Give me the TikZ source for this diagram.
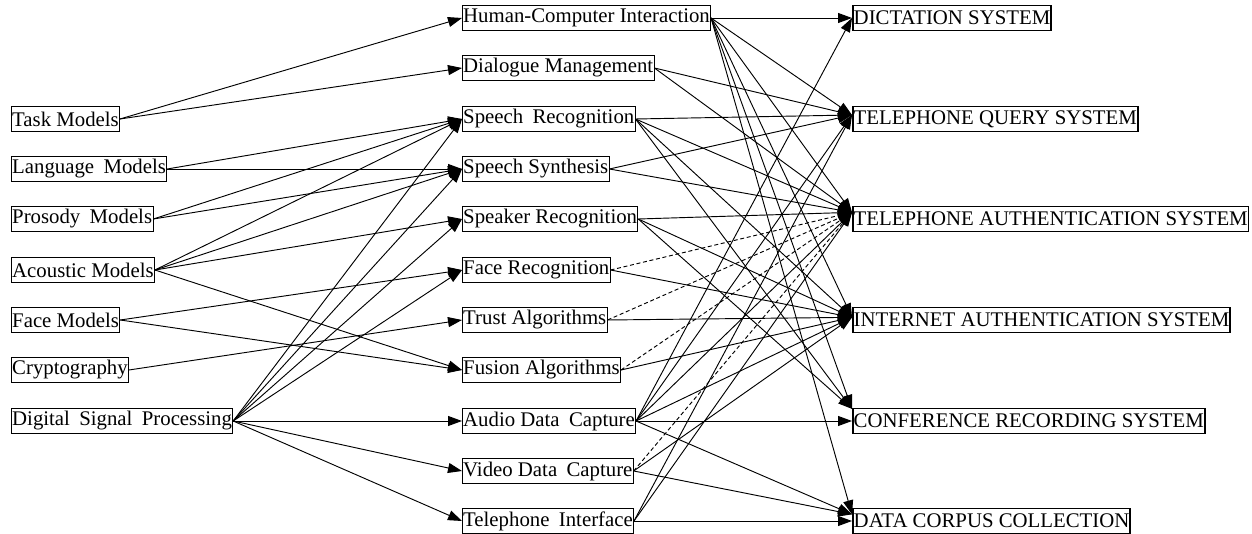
\documentclass[tikz,border=0pt]{standalone}
\usepackage{fontspec}
\setmainfont{Liberation Serif}
\usetikzlibrary{arrows.meta}
\newcommand{\twosp}{\hspace{0.45em}}
\begin{document}
\begin{tikzpicture}[x=0.75pt,y=-0.75pt,
  box/.style={draw, line width=0.6pt, anchor=west, inner xsep=0.6pt, inner ysep=0pt,
              minimum height=18.75pt, font=\fontsize{15.6}{18}\selectfont},
  sysbox/.style={box, line width=1.4pt},
  arr/.style={line width=0.7pt, -{Triangle[length=10.5pt,width=7.5pt]}},
  dsh/.style={arr, dash pattern=on 3pt off 2pt}]
\useasboundingbox (0,0) rectangle (1252,534);
% left column
\node[box] (tm)  at (11,119) {Task Models};
\node[box] (lm)  at (11,169) {Language\twosp Models};
\node[box] (pm)  at (11,219) {Prosody\twosp Models};
\node[box] (am)  at (11,270) {Acoustic Models};
\node[box] (fm)  at (11,320) {Face Models};
\node[box] (cr)  at (11,370) {Cryptography};
\node[box] (dsp) at (11,421) {Digital\twosp Signal\twosp Processing};
% middle column
\node[box] (hci) at (462,18)  {Human-Computer Interaction};
\node[box] (dm)  at (462,68)  {Dialogue Management};
\node[box] (sr)  at (462,119) {Speech\twosp Recognition};
\node[box] (ss)  at (462,169) {Speech Synthesis};
\node[box] (spk) at (462,219) {Speaker Recognition};
\node[box] (fr)  at (462,270) {Face Recognition};
\node[box] (ta)  at (462,320) {Trust Algorithms};
\node[box] (fa)  at (462,370) {Fusion Algorithms};
\node[box] (adc) at (462,421) {Audio Data\twosp Capture};
\node[box] (vdc) at (462,471) {Video Data\twosp Capture};
\node[box] (ti)  at (462,521) {Telephone\twosp Interface};
% right column
\node[sysbox] (dict) at (852,18)  {DICTATION SYSTEM};
\node[sysbox] (telq) at (852,119) {TELEPHONE QUERY SYSTEM};
\node[sysbox] (tela) at (852,219) {TELEPHONE AUTHENTICATION SYSTEM};
\node[sysbox] (inet) at (852,320) {INTERNET AUTHENTICATION SYSTEM};
\node[sysbox] (conf) at (852,421) {CONFERENCE RECORDING SYSTEM};
\node[sysbox] (data) at (852,521) {DATA CORPUS COLLECTION};
% arrival points
\coordinate (dictin) at (dict.west);
\coordinate (telqin) at ([yshift=3pt]telq.west);
\coordinate (telain) at ([yshift=5pt]tela.west);
\coordinate (inetin) at ([yshift=2pt]inet.west);
\coordinate (confin) at (conf.west);
\coordinate (confT)  at ([yshift=-1pt]conf.north west);
\coordinate (datain) at (data.west);
\coordinate (dataT)  at ([yshift=5pt]data.west);
% left -> middle
\foreach \a/\b in {tm/hci, tm/dm, lm/sr, lm/ss, pm/sr, pm/ss, am/sr, am/ss, am/spk, am/fa,
                   fm/fr, fm/fa, cr/ta, dsp/sr, dsp/ss, dsp/spk, dsp/fr, dsp/adc, dsp/vdc, dsp/ti}
  \draw[arr] (\a.east) -- (\b.west);
% middle -> right
\foreach \a/\b in {hci/dictin, hci/telqin, hci/telain, hci/inetin, hci/confT, hci/dataT,
                   dm/telqin, dm/telain,
                   sr/telqin, sr/telain, sr/inetin, sr/confT,
                   ss/telqin, ss/telain,
                   spk/telain, spk/inetin, spk/confT,
                   fr/inetin, ta/inetin, fa/inetin,
                   adc/dictin, adc/telqin, adc/telain, adc/inetin, adc/confin, adc/dataT,
                   vdc/inetin, vdc/dataT,
                   ti/telqin, ti/telain, ti/datain}
  \draw[arr] (\a.east) -- (\b);
\foreach \a in {fr, ta, fa, vdc}
  \draw[dsh] (\a.east) -- (telain);
\end{tikzpicture}
\end{document}
